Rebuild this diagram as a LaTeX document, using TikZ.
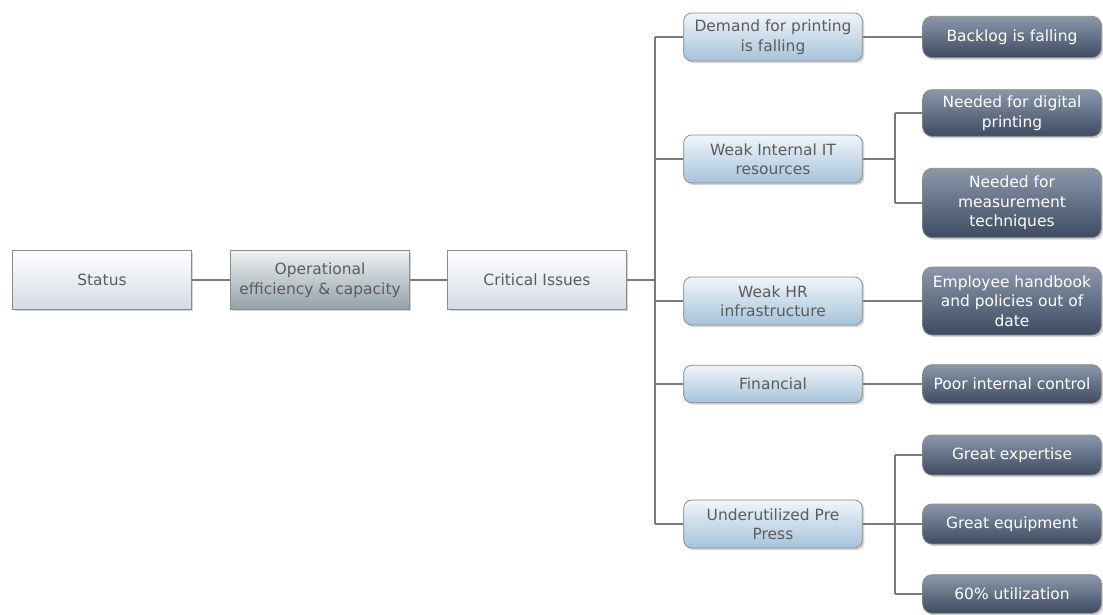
\documentclass[tikz,border=0pt]{standalone}
\usepackage{fontspec}
\setmainfont{DejaVu Sans}
\usetikzlibrary{shadows}

\definecolor{linegray}{HTML}{7A7A7A}
\definecolor{boxedge}{HTML}{8A8A8A}
\definecolor{txtgray}{HTML}{5C5C5C}
\definecolor{palebot}{HTML}{D3DAE6}
\definecolor{opbot}{HTML}{93A1A8}
\definecolor{optop}{HTML}{EEF1F2}
\definecolor{bluetop}{HTML}{F0F5FA}
\definecolor{bluebot}{HTML}{A6C3DA}
\definecolor{darktop}{HTML}{8C98AA}
\definecolor{darkbot}{HTML}{3D4A60}

\begin{document}
\begin{tikzpicture}[x=0.75pt, y=-0.75pt,
    box/.style={draw=boxedge, line width=0.6pt, minimum width=134pt,
        align=center, inner sep=1pt, text=txtgray,
        font=\fontsize{11.6}{14.6}\selectfont,
        drop shadow={opacity=0.35, shadow xshift=1.5pt, shadow yshift=-1.5pt}},
    headbox/.style={box, minimum height=44pt, top color=white, bottom color=palebot},
    opbox/.style={box, minimum height=44pt, top color=optop, bottom color=opbot},
    issuebox/.style={box, rounded corners=6pt, top color=bluetop, bottom color=bluebot},
    factbox/.style={box, rounded corners=7pt, top color=darktop, bottom color=darkbot, text=white},
    link/.style={draw=linegray, line width=1.4pt}
]
    \useasboundingbox (0,0) rectangle (1103,614);

    % --- Main chain ---
    \node[headbox] (status) at (102,280) {Status};
    \node[opbox] (oper) at (320,280) {Operational\\efficiency \& capacity};
    \node[headbox] (crit) at (537,280) {Critical Issues};

    % --- Issues ---
    \node[issuebox, minimum height=36pt] (demand) at (773,37) {Demand for printing\\is falling};
    \node[issuebox, minimum height=36pt] (weakit) at (773,159) {Weak Internal IT\\resources};
    \node[issuebox, minimum height=36pt] (weakhr) at (773,301) {Weak HR\\infrastructure};
    \node[issuebox, minimum height=28pt] (fin) at (773,384) {Financial};
    \node[issuebox, minimum height=36pt] (press) at (773,524) {Underutilized Pre\\Press};

    % --- Facts ---
    \node[factbox, minimum height=31pt] (backlog) at (1012,37) {Backlog is falling};
    \node[factbox, minimum height=35pt] (digital) at (1012,113) {Needed for digital\\printing};
    \node[factbox, minimum height=52pt] (measure) at (1012,203) {Needed for\\measurement\\techniques};
    \node[factbox, minimum height=51pt] (handbook) at (1012,301) {Employee handbook\\and policies out of\\date};
    \node[factbox, minimum height=29pt] (control) at (1012,384) {Poor internal control};
    \node[factbox, minimum height=30pt] (expert) at (1012,455) {Great expertise};
    \node[factbox, minimum height=30pt] (equip) at (1012,524) {Great equipment};
    \node[factbox, minimum height=29pt] (util) at (1012,594) {60\% utilization};

    % --- Junction points ---
    \coordinate (trunk) at (655,280);
    \coordinate (itfork) at (895,159);
    \coordinate (ppfork) at (895,524);

    % --- Connectors ---
    \begin{scope}[on background layer/.try]
    \draw[link] (status) -- (oper);
    \draw[link] (oper) -- (crit);
    \draw[link] (crit) -- (trunk);
    \draw[link] (trunk |- demand) -- (trunk |- press);
    \foreach \n in {demand, weakit, weakhr, fin, press}
        \draw[link] (trunk |- \n) -- (\n);
    \draw[link] (demand) -- (backlog);
    \draw[link] (weakhr) -- (handbook);
    \draw[link] (fin) -- (control);
    % Internal IT fork
    \draw[link] (weakit) -- (itfork);
    \draw[link] (itfork |- digital) -- (itfork |- measure);
    \draw[link] (itfork |- digital) -- (digital);
    \draw[link] (itfork |- measure) -- (measure);
    % Pre press fork
    \draw[link] (press) -- (ppfork);
    \draw[link] (ppfork |- expert) -- (ppfork |- util);
    \foreach \n in {expert, equip, util}
        \draw[link] (ppfork |- \n) -- (\n);
    \end{scope}
\end{tikzpicture}
\end{document}
